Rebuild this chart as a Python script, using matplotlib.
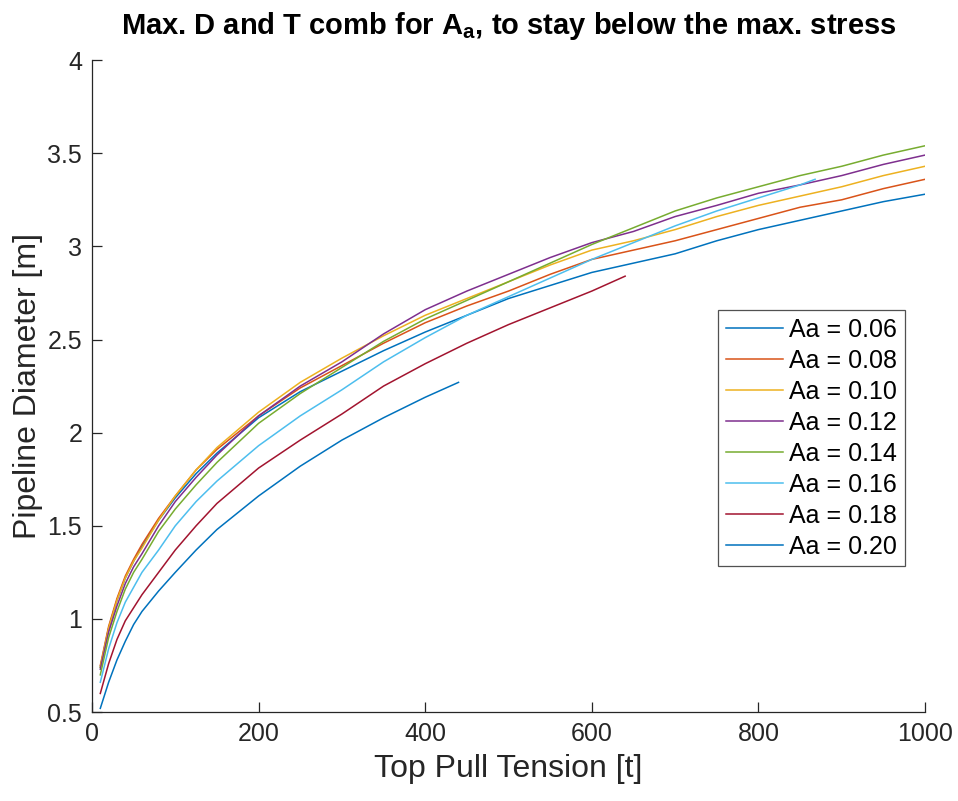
import numpy as np
import matplotlib
matplotlib.use('Agg')
import matplotlib.pyplot as plt
from matplotlib.ticker import FuncFormatter

plt.rcParams['font.family'] = ['Liberation Sans', 'DejaVu Sans']
plt.rcParams['mathtext.fontset'] = 'custom'
plt.rcParams['mathtext.bf'] = 'Liberation Sans:bold'
plt.rcParams['mathtext.rm'] = 'Liberation Sans'

# top pull tension [t] sample points
T = [10, 20, 30, 40, 50, 60, 80, 100, 125, 150, 200, 250, 300, 350, 400,
     450, 500, 550, 600, 650, 700, 750, 800, 850, 900, 950, 1000]

# max pipeline diameter [m] for each Aa
D_006 = [0.74, 0.95, 1.10, 1.22, 1.31, 1.39, 1.53, 1.65, 1.78, 1.89, 2.08, 2.22, 2.33, 2.44, 2.54,
         2.63, 2.72, 2.79, 2.86, 2.91, 2.96, 3.03, 3.09, 3.14, 3.19, 3.24, 3.28]
D_008 = [0.75, 0.96, 1.11, 1.23, 1.32, 1.40, 1.54, 1.66, 1.80, 1.91, 2.09, 2.24, 2.36, 2.48, 2.59,
         2.68, 2.76, 2.85, 2.93, 2.98, 3.03, 3.09, 3.15, 3.21, 3.25, 3.31, 3.36]
D_010 = [0.74, 0.95, 1.10, 1.22, 1.31, 1.38, 1.53, 1.66, 1.80, 1.92, 2.11, 2.27, 2.40, 2.52, 2.63,
         2.72, 2.81, 2.90, 2.98, 3.03, 3.09, 3.16, 3.22, 3.27, 3.32, 3.38, 3.43]
D_012 = [0.73, 0.93, 1.07, 1.19, 1.28, 1.35, 1.50, 1.63, 1.76, 1.88, 2.09, 2.25, 2.38, 2.53, 2.66,
         2.76, 2.85, 2.94, 3.02, 3.08, 3.16, 3.22, 3.285, 3.33, 3.38, 3.44, 3.49]
D_014 = [0.70, 0.90, 1.04, 1.16, 1.25, 1.32, 1.47, 1.59, 1.72, 1.84, 2.05, 2.21, 2.35, 2.49, 2.61,
         2.71, 2.81, 2.91, 3.01, 3.10, 3.19, 3.26, 3.32, 3.38, 3.43, 3.49, 3.54]

T_016 = [10, 20, 30, 40, 50, 60, 80, 100, 125, 150, 200, 250, 300, 350, 400,
         450, 500, 550, 600, 650, 700, 750, 800, 850, 868]
D_016 = [0.66, 0.84, 0.98, 1.09, 1.17, 1.25, 1.37, 1.50, 1.63, 1.74, 1.93, 2.09, 2.23, 2.38, 2.51,
         2.63, 2.73, 2.83, 2.93, 3.02, 3.11, 3.19, 3.26, 3.33, 3.36]

T_018 = [10, 20, 30, 40, 50, 60, 80, 100, 125, 150, 200, 250, 300, 350, 400,
         450, 500, 550, 600, 640]
D_018 = [0.60, 0.76, 0.89, 0.99, 1.06, 1.13, 1.25, 1.37, 1.50, 1.62, 1.81, 1.96, 2.10, 2.25, 2.37,
         2.48, 2.58, 2.67, 2.76, 2.84]

T_020 = [10, 20, 30, 40, 50, 60, 80, 100, 125, 150, 200, 250, 300, 350, 400, 440]
D_020 = [0.52, 0.66, 0.78, 0.88, 0.97, 1.04, 1.15, 1.25, 1.37, 1.48, 1.66, 1.82, 1.96, 2.08, 2.19, 2.27]

labels = ['Aa = 0.06', 'Aa = 0.08', 'Aa = 0.10', 'Aa = 0.12',
          'Aa = 0.14', 'Aa = 0.16', 'Aa = 0.18', 'Aa = 0.20']

# matlab default colour order (wraps after 7)
colors = ['#0072BD', '#D95319', '#EDB120', '#7E2F8E', '#77AC30', '#4DBEEE', '#A2142F', '#0072BD']

xs = [T, T, T, T, T, T_016, T_018, T_020]
ys = [D_006, D_008, D_010, D_012, D_014, D_016, D_018, D_020]

fig = plt.figure(figsize=(9.58, 8.01), dpi=100)
ax = fig.add_axes([0.096, 0.111, 0.8696, 0.814])

for x, y, c, l in zip(xs, ys, colors, labels):
    ax.plot(x, y, color=c, lw=1.1, label=l)

ax.set_xlim(0, 1000)
ax.set_ylim(0.5, 4)
ax.set_xticks(np.arange(0, 1001, 200))
ax.set_yticks(np.arange(0.5, 4.01, 0.5))
ax.yaxis.set_major_formatter(FuncFormatter(lambda v, p: '%g' % v))

ax.spines['top'].set_visible(False)
ax.spines['right'].set_visible(False)
for s in ['left', 'bottom']:
    ax.spines[s].set_color('#262626')
    ax.spines[s].set_linewidth(0.9)
ax.tick_params(direction='in', length=7, width=0.9, colors='#262626',
               labelsize=18, pad=7)

ax.set_xlabel('Top Pull Tension [t]', fontsize=23, color='#262626', labelpad=6)
ax.set_ylabel('Pipeline Diameter [m]', fontsize=23, color='#262626', labelpad=3)
ax.set_title(r'Max. D and T comb for $\mathbf{A_a}$, to stay below the max. stress',
             fontsize=21, fontweight='bold', pad=19)

leg = ax.legend(loc='upper left', bbox_to_anchor=(0.7515, 0.6166), fontsize=18,
                frameon=True, fancybox=False, handlelength=2.3, handletextpad=0.25,
                labelspacing=0.28, borderpad=0.3, borderaxespad=0)
leg.get_frame().set_edgecolor('#262626')
leg.get_frame().set_linewidth(0.9)

plt.savefig('out.png', dpi=100)
